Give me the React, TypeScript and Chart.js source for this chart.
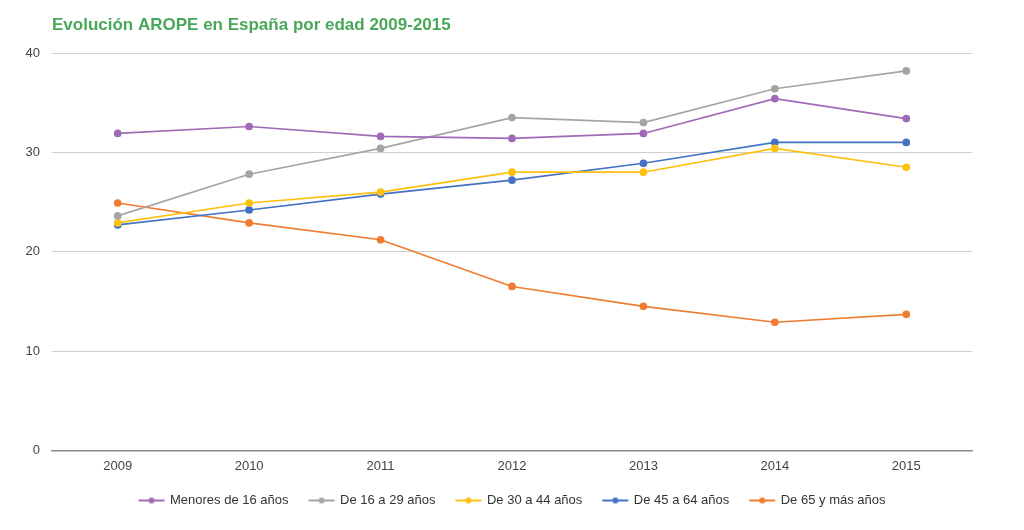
import React, { useEffect, useRef } from "react";
import { Chart, registerables } from "chart.js";

Chart.register(...registerables);

const years = ["2009", "2010", "2011", "2012", "2013", "2014", "2015"];
const menores16 = [31.9, 32.6, 31.6, 31.4, 31.9, 35.4, 33.4];
const de16a29 = [23.6, 27.8, 30.4, 33.5, 33.0, 36.4, 38.2];
const de30a44 = [22.9, 24.9, 26.0, 28.0, 28.0, 30.4, 28.5];
const de45a64 = [22.7, 24.2, 25.8, 27.2, 28.9, 31.0, 31.0];
const de65 = [24.9, 22.9, 21.2, 16.5, 14.5, 12.9, 13.7];
const seriesNames = ["Menores de 16 años", "De 16 a 29 años", "De 30 a 44 años", "De 45 a 64 años", "De 65 y más años"];
const colors = ["#a06bb6", "#a5a5a5", "#fdc00f", "#4472c4", "#ef7d31"];
const titleText = "Evolución AROPE en España por edad 2009-2015";

const FONT = "'Liberation Sans', Arial, sans-serif";

function legendIcon(color: string): HTMLCanvasElement {
  const c = document.createElement("canvas");
  c.width = 29;
  c.height = 10;
  const ctx = c.getContext("2d")!;
  ctx.strokeStyle = color;
  ctx.lineWidth = 2;
  ctx.beginPath();
  ctx.moveTo(2, 5);
  ctx.lineTo(28, 5);
  ctx.stroke();
  ctx.fillStyle = color;
  ctx.beginPath();
  ctx.arc(15, 5, 3, 0, Math.PI * 2);
  ctx.fill();
  return c;
}

export default function App() {
  const ref = useRef<HTMLCanvasElement>(null);
  useEffect(() => {
    document.body.style.margin = "0";
    const allData = [menores16, de16a29, de30a44, de45a64, de65];
    const titlePlugin = {
      id: "leftTitle",
      afterDraw(chart: any) {
        const ctx = chart.ctx;
        ctx.save();
        ctx.font = "bold 17px " + FONT;
        ctx.fillStyle = "#4aa757";
        ctx.textBaseline = "middle";
        ctx.textAlign = "left";
        ctx.fillText(titleText, chart.chartArea.left, 25);
        ctx.restore();
      },
    };
    const chart = new Chart(ref.current!, {
      type: "line",
      data: {
        labels: years,
        datasets: allData.map((d, i) => ({
          label: seriesNames[i],
          data: d,
          borderColor: colors[i],
          backgroundColor: colors[i],
          borderWidth: 1.7,
          pointRadius: 3,
          pointHoverRadius: 3,
          tension: 0,
          yAxisID: "y",
        })),
      },
      options: {
        animation: false,
        responsive: false,
        layout: { padding: { top: 53, right: 0, left: 0, bottom: 13 } },
        font: { family: FONT },
        scales: {
          x: {
            offset: true,
            grid: { display: false },
            border: { color: "#888", width: 1.5 },
            ticks: { color: "#444", font: { size: 13, family: FONT }, padding: 0 },
          },
          y: {
            min: 0,
            max: 40,
            grid: { color: "#d0d0d0", drawTicks: false },
            border: { display: false },
            ticks: { stepSize: 10, color: "#444", font: { size: 13, family: FONT }, padding: 12 },
            afterFit(scale: any) {
              scale.width = 52;
            },
          },
          yRight: {
            type: "linear",
            position: "right",
            min: 0,
            max: 40,
            grid: { display: false },
            border: { display: false },
            ticks: { display: false },
            afterFit(scale: any) {
              scale.width = 52;
            },
          },
        },
        plugins: {
          title: { display: false },
          tooltip: { enabled: false },
          legend: {
            position: "bottom",
            labels: {
              usePointStyle: true,
              pointStyleWidth: 25,
              color: "#333",
              font: { size: 13, family: FONT },
              padding: 20,
              generateLabels(ch: any) {
                return ch.data.datasets.map((ds: any, i: number) => ({
                  text: ds.label,
                  fillStyle: colors[i],
                  strokeStyle: colors[i],
                  pointStyle: legendIcon(colors[i]),
                  lineWidth: 0,
                  hidden: false,
                  datasetIndex: i,
                  fontColor: "#333",
                }));
              },
            },
          },
        },
      },
      plugins: [titlePlugin],
    });
    return () => chart.destroy();
  }, []);
  return <canvas ref={ref} width={1024} height={530} style={{ display: "block" }} />;
}
